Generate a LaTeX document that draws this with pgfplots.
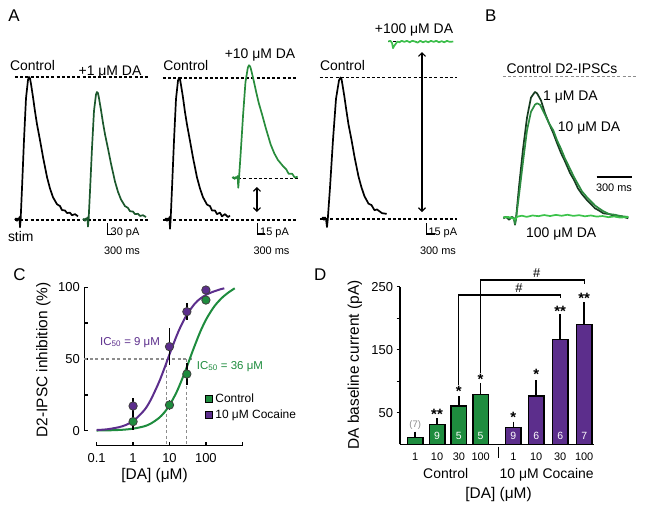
\documentclass[border=0pt]{standalone}
\usepackage{fontspec}
\setmainfont{Liberation Sans}
\usepackage{pgfplots}
\pgfplotsset{compat=1.18}
\usetikzlibrary{arrows.meta}
\definecolor{cg}{RGB}{30,140,62}
\definecolor{cp}{RGB}{92,46,140}
\definecolor{gAa}{RGB}{28,88,45}
\definecolor{gAb}{RGB}{40,140,60}
\definecolor{gAc}{RGB}{60,190,75}
\definecolor{gBa}{RGB}{22,60,32}
\definecolor{gBb}{RGB}{45,140,65}
\definecolor{gBc}{RGB}{60,195,75}
\definecolor{dgray}{RGB}{140,140,140}
\newcommand\fL{\fontsize{17}{19}\selectfont}
\newcommand\fA{\fontsize{14}{16}\selectfont}
\newcommand\fS{\fontsize{11}{13}\selectfont}
\newcommand\fT{\fontsize{13}{15}\selectfont}
\newcommand\fXT{\fontsize{11}{13}\selectfont}
\newcommand\fX{\fontsize{15.5}{18}\selectfont}
\newcommand\fLeg{\fontsize{12}{14}\selectfont}
\newcommand\fIC{\fontsize{11.5}{13}\selectfont}
\newcommand\fN{\fontsize{10.5}{12}\selectfont}
\newcommand\fSm{\fontsize{9.5}{11}\selectfont}
\newcommand\fStar{\fontsize{15}{17}\selectfont\bfseries}
\newcommand\fHash{\fontsize{13}{15}\selectfont}
\pgfplotsset{
  tr/.style={hide axis, clip=false, enlargelimits=false, anchor=south west},
  trace/.style={line width=1.7bp, line join=round},
}
\tikzset{
  lab/.style={inner sep=0pt},
  dl/.style={black, line width=1.1bp, dash pattern=on 3bp off 2.2bp},
  sb/.style={black, line width=1.5bp},
  da/.style={black, line width=1.2bp, {Straight Barb[length=3.5bp,width=7bp]}-{Straight Barb[length=3.5bp,width=7bp]}},
  bn/.style={font=\fN, text=white, anchor=base, inner sep=0pt},
  st/.style={font=\fStar, anchor=base, inner sep=0pt},
  hs/.style={font=\fHash, anchor=base, inner sep=0pt},
}
\begin{document}
\begin{tikzpicture}
\useasboundingbox (0,0) rectangle (647bp,-511bp);

% ---------------- Panel A, sub-panel 1 (30 pA scale)
\begin{axis}[tr, at={(9.333bp,-242bp)}, x=0.026667bp, y=0.36667bp,
  xmin=-400, xmax=5000, ymin=-60, ymax=420]
\draw[dl] (axis cs:-188,0) -- (axis cs:4800,0);
\draw[dl] (axis cs:-188,390) -- (axis cs:4800,390);
\addplot[trace, black] table {
-188 0
-150 4
-113 -2
-75 4
-38 0
-19 8
0 -20
23 0
75 86
150 218
225 332
300 382
338 390
375 386
413 371
488 335
563 296
638 261
750 218
863 172
1013 117
1125 86
1238 62
1388 43
1500 38
1575 27
1688 26
1763 19
1875 20
1950 13
2063 16
2175 10
};
\addplot[trace, gAa] table {
2362 0
2400 3
2437 -2
2475 4
2512 0
2531 7
2550 -18
2573 0
2625 77
2700 195
2775 297
2850 342
2888 349
2925 346
2963 332
3038 300
3113 265
3188 234
3300 195
3413 154
3563 105
3675 77
3788 56
3938 38
4050 33
4125 24
4238 23
4313 16
4425 17
4500 11
4613 13
4725 8
};
\draw[sb] (axis cs:3274,-9) -- (axis cs:3274,-39) -- (axis cs:3574,-39);
\end{axis}

% ---------------- Panel A, sub-panel 2 (15 pA scale)
\begin{axis}[tr, at={(159.333bp,-242bp)}, x=0.026667bp, y=0.73333bp,
  xmin=-400, xmax=5000, ymin=-30, ymax=230]
\draw[dl] (axis cs:-263,0) -- (axis cs:4800,0);
\draw[dl] (axis cs:-263,193.6) -- (axis cs:4800,193.6);
\draw[dl] (axis cs:2363,57) -- (axis cs:4800,57);
\addplot[trace, black] table {
-188 0
-150 2
-113 -1
-75 2
-38 0
-19 4
0 -12
23 0
75 43
150 108
225 165
300 190
338 194
375 192
413 184
488 167
563 147
638 130
750 108
863 85
1013 58
1125 43
1238 31
1388 21
1500 19
1575 13
1688 13
1763 8
1875 10
1950 5
2063 8
2175 4
2250 6
};
\addplot[trace, gAb] table {
2336 57
2381 58.5
2426 56
2471 58.5
2516 57
2538 60
2561 44
2588 57
2651 91
2741 143
2831 188
2921 208
2966 211
3011 209
3056 203
3146 189
3236 174
3326 160
3461 143
3596 125
3776 103
3911 91
4046 82
4226 74
4361 69
4451 63
4586 63
4676 58
4788 59
};
\draw[da] (axis cs:3263,45) -- (axis cs:3263,10.9);
\draw[sb] (axis cs:3274,-4.1) -- (axis cs:3274,-19.1) -- (axis cs:3574,-19.1);
\end{axis}

% ---------------- Panel A, sub-panel 3
\begin{axis}[tr, at={(316.333bp,-241bp)}, x=0.026667bp, y=0.73333bp,
  xmin=-400, xmax=5000, ymin=-30, ymax=260]
\draw[dl] (axis cs:-263,0) -- (axis cs:4875,0);
\draw[dl] (axis cs:-263,193) -- (axis cs:4875,193);
\draw[dl] (axis cs:2299,242) -- (axis cs:4736,242);
\addplot[trace, black] table {
-188 0
-150 2
-113 -1
-75 2
-38 0
0 -11
30 0
113 43
225 108
338 164
450 189
506 193
544 191
581 183
656 166
731 147
806 129
919 108
1031 85
1181 58
1294 43
1406 31
1556 21
1669 19
1781 12
1875 13
2063 8
2239 7
};
\addplot[trace, gAc] table {
2299 242
2380 243
2440 240
2475 233
2520 236
2580 239
2640 242
2720 241
2800 243
2900 241.5
3000 243
3100 241
3200 243
3300 242
3400 240.5
3500 243
3600 241
3700 242.5
3800 241
3900 243
4000 241.5
4100 243
4200 241
4300 242.5
4400 241
4500 243
4600 241.5
4736 242
};
\draw[da] (axis cs:3563,227.7) -- (axis cs:3563,9.5);
\draw[sb] (axis cs:3739,-5.5) -- (axis cs:3739,-20.5) -- (axis cs:4039,-20.5);
\end{axis}

% ---------------- Panel B
\begin{axis}[tr, at={(501bp,-225.4bp)}, x=0.116667bp, y=1.42bp,
  xmin=-120, xmax=1100, ymin=-5, ymax=110]
\draw[dgray, line width=1.1bp, dash pattern=on 3bp off 2.2bp] (axis cs:-103,100) -- (axis cs:1054,100);
\addplot[trace, gBa] table {
-100 0
-77 1
-51 -1
-26 1
-9 0
0 -4.5
9 0
34 22
69 49
103 71
137 85
171 89
189 88
223 83
257 74
291 67
328 60
360 53
394 46
429 40
471 32
506 27
540 21
574 17
615 13
651 10
686 7
720 5.5
757 3.5
806 3
857 1.5
909 1.5
971 0
};
\addplot[trace, gBb] table {
-100 0.5
-77 1
-51 0
-26 1
-9 0
0 -4
9 0
34 16
69 40
103 62
137 75
171 80
189 81
214 80
257 73
291 67
328 62
360 55
394 49
429 42
471 35
506 29
540 24
574 19
615 15
651 12
686 9
720 7
757 5
806 3
857 2.5
909 1.5
971 1
};
\addplot[trace, gBc] table {
-100 0.5
-60 1
-20 0
0 -1
20 1.2
60 1.8
100 1
150 2
200 1.5
250 2.3
300 1.6
350 2.4
400 1.8
450 2.5
500 1.7
550 2.2
600 1.4
650 2
700 1.2
750 1.6
800 0.8
850 1.3
900 0.5
971 0.9
};
\draw[black, line width=1.8bp] (axis cs:700,29.3) -- (axis cs:1000,29.3);
\end{axis}

% ---------------- Panel C
\begin{axis}[at={(84.3bp,-445.7bp)}, anchor=south west, scale only axis,
  width=158bp, height=158.4bp,
  xmode=log, log basis x=10, xmin=0.0457, xmax=1000, ymin=-10.5, ymax=100,
  enlargelimits=false, clip=false,
  axis x line*=bottom, axis y line*=left, axis line style={draw=none},
  xtick={0.1,1,10,100,1000}, xticklabels={0.1,1,10,100,{}}, xminorticks=false,
  ytick={0,50,100}, yticklabels={0,50,100}, minor ytick={25,75},
  tick align=inside, major tick length=3.5bp, minor tick length=3.5bp,
  tick style={black, line width=1.4bp},
  /pgf/number format/assume math mode=true,
  xticklabel style={font=\fT, inner sep=0pt, yshift=-7.7bp},
  yticklabel style={font=\fT, inner sep=0pt, xshift=-4.3bp},
  legend style={at={(axis description cs:0.765,0.34)}, anchor=north west, draw=none, fill=none,
    inner sep=0pt, row sep=2bp, font=\fLeg, nodes={inner sep=2bp}},
  legend cell align=left]
\draw[black, line width=1.5bp] (axis cs:0.0457,0) -- (axis cs:0.0457,100);
\draw[black, line width=1.5bp] (axis cs:0.1,-10.5) -- (axis cs:1000,-10.5);
\draw[dgray, line width=1.1bp, dash pattern=on 3bp off 2.5bp] (axis cs:0.0457,50) -- (axis cs:44,50);
\draw[dgray, line width=1.1bp, dash pattern=on 3bp off 2.5bp] (axis cs:8.5,50) -- (axis cs:8.5,-10.5);
\draw[dgray, line width=1.1bp, dash pattern=on 3bp off 2.5bp] (axis cs:29,50) -- (axis cs:29,-10.5);
\addlegendimage{legend image code/.code={\draw[fill=cg, draw=black, line width=1bp] (0bp,-3.5bp) rectangle (7bp,3.5bp);}}
\addlegendentry{Control}
\addlegendimage{legend image code/.code={\draw[fill=cp, draw=black, line width=1bp] (0bp,-3.5bp) rectangle (7bp,3.5bp);}}
\addlegendentry{10 μM Cocaine}
\addplot[forget plot, cg, line width=2bp, smooth] coordinates {
(0.1,0.1) (0.2,0.2) (0.5,0.6) (1,1.4) (2,3.0) (3,4.8) (5,8.6) (7,12.3) (10,17.7)
(15,25.9) (20,33.1) (30,44.5) (40,53.2) (50,59.7) (70,69.0) (100,77.3) (150,84.7)
(200,88.9) (300,93.5) (450,97) (620,99.3)};
\addplot[forget plot, cp, line width=2bp, smooth] coordinates {
(0.1,0.45) (0.2,1.0) (0.5,3.0) (1,6.7) (2,14.1) (3,21.1) (5,33.1) (7,42.5) (10,53.2)
(15,64.9) (20,72.3) (30,80.9) (50,88.7) (70,92.1) (100,94.7) (150,96.7) (250,98.6) (320,99.3)};
\addplot[forget plot, draw=none, mark=none, error bars/.cd, y dir=both, y explicit, error mark=none,
  error bar style={draw=black, line width=1.6bp, solid}] coordinates {
(1,6.3) +- (0,5.8) (10,17.9) +- (0,3.5) (30,39.5) +- (0,7.5) (100,91.1) +- (0,1.5)};
\addplot[forget plot, draw=none, mark=none, error bars/.cd, y dir=both, y explicit, error mark=none,
  error bar style={draw=black, line width=1.6bp, solid}] coordinates {
(1,17.2) +- (0,5.6) (10,58.6) +- (0,12.8) (30,83) +- (0,6) (100,98.1) +- (0,1.5)};
\addplot[forget plot, only marks, mark=*, mark size=4.2bp, mark options={fill=cg, draw=black!75, line width=0.8bp}]
 coordinates {(1,6.3) (10,17.9) (30,39.5) (100,91.1)};
\addplot[forget plot, only marks, mark=*, mark size=4.2bp, mark options={fill=cp, draw=black!75, line width=0.8bp}]
 coordinates {(1,17.2) (10,58.6) (30,83) (100,98.1)};
\end{axis}

% ---------------- Panel D
\begin{axis}[at={(400bp,-444.3bp)}, anchor=south west, scale only axis,
  width=194bp, height=157.6bp,
  xmin=-0.7, xmax=8.2, ymin=0, ymax=250, enlargelimits=false, clip=false,
  axis x line*=bottom, axis y line*=left, axis line style={-, black, line width=1.5bp},
  xtick={0,1,2,3,4.5,5.55,6.65,7.75}, xticklabels={1,10,30,100,1,10,30,100},
  ytick={50,150,250}, yticklabels={50,150,250}, minor ytick={100,200},
  tick align=outside, major tick length=3.5bp, minor tick length=3.5bp,
  xtick style={draw=none}, ytick style={black, line width=1.4bp},
  /pgf/number format/assume math mode=true,
  yticklabel style={font=\fT},
  xticklabel style={font=\fXT, inner sep=0pt, yshift=-4.5bp}]
\addplot[ybar, bar width=15.5bp, bar shift=0pt, fill=cg, draw=black, line width=1.5bp,
  error bars/.cd, y dir=plus, y explicit, error mark=none, error bar style={black, line width=1.6bp}]
  coordinates {(0,10.4) +- (0,9.6) (1,31.6) +- (0,9.4) (2,60.6) +- (0,16.4) (3,79) +- (0,18.5)};
\addplot[ybar, bar width=15.5bp, bar shift=0pt, fill=cp, draw=black, line width=1.5bp,
  error bars/.cd, y dir=plus, y explicit, error mark=none, error bar style={black, line width=1.6bp}]
  coordinates {(4.5,26.3) +- (0,9.5) (5.55,77) +- (0,24.7) (6.65,166) +- (0,41) (7.75,190) +- (0,35.6)};
\node[bn] at (axis cs:1,8) {9};
\node[bn] at (axis cs:2,8) {5};
\node[bn] at (axis cs:3,8) {5};
\node[bn] at (axis cs:4.5,8) {9};
\node[bn] at (axis cs:5.55,8) {6};
\node[bn] at (axis cs:6.65,8) {6};
\node[bn] at (axis cs:7.75,8) {7};
\node[font=\fSm, text=dgray, anchor=base, inner sep=0pt] at (axis cs:0,27) {(7)};
\node[st] at (axis cs:1,40) {**};
\node[st] at (axis cs:2,76) {*};
\node[st] at (axis cs:3,95.6) {*};
\node[st] at (axis cs:4.5,35.3) {*};
\node[st] at (axis cs:5.55,103.5) {*};
\node[st] at (axis cs:6.65,203) {**};
\node[st] at (axis cs:7.75,224) {**};
\draw[black, line width=1.2bp] (axis cs:2,94) -- (axis cs:2,237) -- (axis cs:6.65,237) -- (axis cs:6.65,231.6);
\draw[black, line width=1.2bp] (axis cs:3,112.6) -- (axis cs:3,260.6) -- (axis cs:7.75,260.6) -- (axis cs:7.75,254.3);
\node[hs] at (axis cs:4.76,240.3) {\#};
\node[hs] at (axis cs:5.57,265) {\#};
\draw[black, line width=1.4bp] (axis cs:3.81,-3.8) -- (axis cs:3.81,-21.7);
\end{axis}

% ---------------- text
\node[lab, font=\fL, anchor=base west] at (8.3bp,-21.7bp) {A};
\node[lab, font=\fL, anchor=base west] at (485bp,-21.7bp) {B};
\node[lab, font=\fL, anchor=base west] at (13.3bp,-280bp) {C};
\node[lab, font=\fL, anchor=base west] at (314bp,-280bp) {D};

\node[lab, font=\fA, anchor=base] at (32.5bp,-70bp) {Control};
\node[lab, font=\fA, anchor=base] at (110bp,-75bp) {+1 μM DA};
\node[lab, font=\fA, anchor=base] at (185.8bp,-70bp) {Control};
\node[lab, font=\fA, anchor=base] at (260bp,-58.3bp) {+10 μM DA};
\node[lab, font=\fA, anchor=base] at (342.5bp,-70bp) {Control};
\node[lab, font=\fA, anchor=base] at (414bp,-33.3bp) {+100 μM DA};
\node[lab, font=\fA, anchor=base] at (20.8bp,-241.7bp) {stim};

\node[lab, font=\fS, anchor=base west] at (110.5bp,-235.7bp) {30 pA};
\node[lab, font=\fS, anchor=base] at (122bp,-254.3bp) {300 ms};
\node[lab, font=\fS, anchor=base west] at (260bp,-235bp) {15 pA};
\node[lab, font=\fS, anchor=base] at (271.5bp,-254.3bp) {300 ms};
\node[lab, font=\fS, anchor=base west] at (428.3bp,-235bp) {15 pA};
\node[lab, font=\fS, anchor=base] at (438bp,-254.3bp) {300 ms};

\node[lab, font=\fA, anchor=center] at (562bp,-69bp) {Control D2-IPSCs};
\node[lab, font=\fA, anchor=base west] at (543bp,-100bp) {1 μM DA};
\node[lab, font=\fA, anchor=base west] at (557.7bp,-131.7bp) {10 μM DA};
\node[lab, font=\fA, anchor=base west] at (526bp,-237.3bp) {100 μM DA};
\node[lab, font=\fS, anchor=base] at (614bp,-191bp) {300 ms};

\node[lab, font=\fX, rotate=90, anchor=center] at (43.3bp,-360bp) {D2-IPSC inhibition (\%)};
\node[lab, font=\fX, anchor=center] at (154.5bp,-476bp) {[DA] (μM)};
\node[lab, font=\fIC, anchor=base west, text=cp] at (100bp,-345bp) {IC\textsubscript{50} = 9 μM};
\node[lab, font=\fIC, anchor=base west, text=cg] at (196.7bp,-369bp) {IC\textsubscript{50} = 36 μM};

\node[lab, font=\fX, rotate=90, anchor=center] at (355bp,-365bp) {DA baseline current (pA)};
\node[lab, font=\fA, anchor=base] at (445.7bp,-478.3bp) {Control};
\node[lab, font=\fA, anchor=base] at (546.7bp,-478.3bp) {10 μM Cocaine};
\node[lab, font=\fX, anchor=center] at (498.5bp,-495bp) {[DA] (μM)};
\end{tikzpicture}
\end{document}
